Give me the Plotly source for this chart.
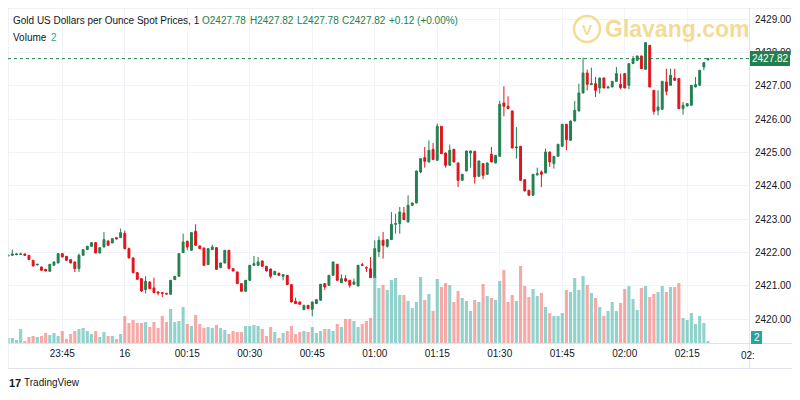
import plotly.graph_objects as go
import pandas as pd

# ---------------- data ----------------
start_time = "2024-08-15 23:32"
n_candles = 169
times = pd.date_range(start_time, periods=n_candles, freq="min")

opens = [2421.90,2421.92,2421.94,2421.95,2421.96,2421.92,2421.77,2421.63,2421.57,2421.50,
         2421.44,2421.62,2421.69,2421.97,2421.89,2421.79,2421.72,2421.52,2421.92,2422.09,
         2422.19,2422.30,2421.99,2422.17,2422.35,2422.29,2422.45,2422.45,2422.58,2422.12,
         2421.84,2421.40,2421.22,2420.89,2421.12,2420.94,2420.82,2420.80,2420.78,2420.75,
         2421.19,2421.29,2422.00,2422.34,2422.07,2422.64,2422.20,2422.14,2421.64,2422.09,
         2422.15,2421.55,2421.69,2422.07,2421.52,2421.42,2421.07,2420.84,2421.17,2421.62,
         2421.62,2421.75,2421.59,2421.51,2421.34,2421.38,2421.29,2421.32,2421.04,2420.54,
         2420.52,2420.29,2420.42,2420.30,2420.47,2420.57,2421.07,2421.02,2421.32,2421.65,
         2421.10,2421.22,2421.17,2421.05,2421.00,2421.64,2421.55,2421.52,2421.25,2422.03,
         2422.37,2422.19,2422.39,2422.85,2422.87,2423.19,2422.92,2423.42,2423.49,2424.42,
         2424.85,2424.72,2425.10,2424.77,2425.79,2424.99,2424.62,2425.10,2424.69,2424.17,
         2424.45,2424.99,2425.04,2424.29,2424.67,2424.35,2424.95,2424.69,2424.89,2426.49,
         2426.39,2426.25,2425.14,2425.19,2424.19,2423.87,2423.72,2424.33,2424.42,2424.39,
         2425.02,2424.67,2424.89,2425.19,2425.85,2425.37,2425.95,2426.25,2426.79,2427.39,
         2427.04,2427.07,2426.94,2427.24,2426.94,2426.97,2427.14,2427.05,2427.37,2427.02,
         2427.67,2427.77,2427.90,2427.50,2428.22,2426.87,2426.27,2426.30,2427.12,2427.02,
         2427.24,2427.22,2426.32,2426.40,2426.42,2426.97,2427.02,2427.57,2427.78]
highs = [2421.95,2422.09,2421.99,2422.00,2421.97,2421.93,2421.78,2421.66,2421.58,2421.51,
         2421.66,2421.74,2421.99,2421.99,2421.90,2421.80,2421.73,2421.97,2422.10,2422.20,
         2422.31,2422.31,2422.16,2422.62,2422.36,2422.43,2422.46,2422.72,2422.66,2422.15,
         2421.86,2421.42,2421.23,2421.29,2421.14,2421.25,2420.84,2420.81,2420.79,2421.18,
         2421.30,2421.98,2422.57,2422.36,2422.62,2422.85,2422.22,2422.15,2422.13,2422.24,
         2422.16,2421.70,2422.08,2422.08,2421.53,2421.43,2421.08,2421.18,2421.63,2421.90,
         2421.87,2421.76,2421.60,2421.52,2421.45,2421.40,2421.35,2421.33,2421.05,2420.65,
         2420.53,2420.43,2420.43,2420.53,2420.60,2421.06,2421.08,2421.33,2421.73,2421.66,
         2421.35,2421.32,2421.18,2421.22,2421.63,2421.69,2421.59,2421.87,2422.37,2422.49,
         2422.62,2422.40,2423.22,2423.17,2423.37,2423.37,2423.72,2423.50,2424.46,2424.83,
         2425.17,2425.37,2425.29,2425.87,2425.80,2425.00,2425.24,2425.11,2424.70,2424.36,
         2425.06,2425.06,2425.05,2424.76,2424.68,2424.70,2425.17,2424.93,2426.55,2426.99,
         2426.69,2426.26,2425.77,2425.20,2424.20,2423.88,2424.36,2424.55,2424.47,2425.12,
         2425.03,2424.90,2425.26,2425.86,2425.86,2425.96,2426.55,2427.07,2427.85,2427.49,
         2427.55,2427.27,2427.25,2427.25,2426.98,2427.15,2427.57,2427.37,2427.38,2427.67,
         2427.90,2427.91,2427.91,2428.30,2428.23,2426.88,2426.87,2427.15,2427.52,2427.52,
         2427.52,2427.23,2426.52,2426.48,2427.03,2427.27,2427.48,2427.72,2427.82]
lows = [2421.88,2421.90,2421.92,2421.93,2421.90,2421.78,2421.59,2421.62,2421.46,2421.44,
        2421.43,2421.61,2421.68,2421.86,2421.76,2421.68,2421.42,2421.42,2421.91,2422.08,
        2422.18,2421.98,2421.98,2422.16,2422.21,2422.28,2422.40,2422.44,2422.10,2421.83,
        2421.38,2421.19,2420.82,2420.77,2420.91,2420.78,2420.72,2420.67,2420.74,2420.74,
        2421.18,2421.28,2421.99,2422.07,2422.06,2422.21,2422.11,2421.61,2421.63,2422.08,
        2421.49,2421.54,2421.68,2421.51,2421.44,2421.06,2420.83,2420.83,2421.16,2421.61,
        2421.61,2421.58,2421.44,2421.23,2421.33,2421.31,2421.17,2421.03,2420.51,2420.46,
        2420.44,2420.28,2420.31,2420.09,2420.46,2420.56,2420.88,2421.01,2421.31,2421.16,
        2421.09,2421.12,2420.95,2421.04,2420.99,2421.60,2421.42,2421.24,2421.24,2421.87,
        2421.82,2422.15,2422.38,2422.57,2422.57,2422.98,2422.91,2423.41,2423.48,2424.38,
        2424.55,2424.71,2424.78,2424.76,2424.96,2424.55,2424.61,2424.71,2423.97,2424.16,
        2424.44,2424.55,2424.07,2424.28,2424.20,2424.34,2424.71,2424.68,2424.88,2426.09,
        2426.31,2425.13,2424.82,2424.16,2423.84,2423.71,2423.71,2424.32,2423.97,2424.38,
        2424.57,2424.52,2424.88,2425.18,2425.07,2425.36,2425.94,2426.24,2426.78,2426.87,
        2427.03,2426.67,2426.77,2426.93,2426.93,2426.96,2427.13,2426.90,2426.93,2426.90,
        2427.66,2427.76,2427.51,2427.49,2426.96,2426.14,2426.12,2426.29,2426.72,2427.01,
        2427.16,2426.31,2426.14,2426.39,2426.41,2426.96,2427.01,2427.47,2427.78]
closes = [2421.93,2421.96,2421.96,2421.96,2421.92,2421.79,2421.60,2421.65,2421.47,2421.45,
          2421.65,2421.72,2421.97,2421.87,2421.77,2421.69,2421.52,2421.92,2422.09,2422.19,
          2422.30,2421.99,2422.15,2422.39,2422.22,2422.42,2422.41,2422.60,2422.12,2421.84,
          2421.40,2421.20,2420.85,2421.14,2420.92,2420.80,2420.79,2420.78,2420.76,2421.17,
          2421.29,2421.97,2422.32,2422.17,2422.60,2422.22,2422.12,2421.62,2422.12,2422.17,
          2421.50,2421.69,2422.07,2421.52,2421.45,2421.07,2420.84,2421.17,2421.62,2421.67,
          2421.72,2421.59,2421.45,2421.29,2421.44,2421.32,2421.34,2421.04,2420.52,2420.47,
          2420.45,2420.42,2420.32,2420.52,2420.59,2421.05,2420.97,2421.32,2421.72,2421.17,
          2421.22,2421.15,2421.02,2421.12,2421.62,2421.62,2421.54,2421.25,2422.12,2422.37,
          2422.22,2422.39,2422.85,2422.87,2423.22,2422.99,2423.42,2423.49,2424.45,2424.82,
          2424.74,2425.07,2424.79,2425.79,2424.97,2424.62,2425.07,2424.72,2424.17,2424.35,
          2425.05,2425.05,2424.27,2424.75,2424.32,2424.69,2424.72,2424.92,2426.45,2426.39,
          2426.32,2425.14,2425.17,2424.17,2423.85,2423.72,2424.35,2424.37,2424.35,2425.02,
          2424.72,2424.89,2425.25,2425.85,2425.39,2425.95,2426.27,2426.79,2427.39,2427.05,
          2427.07,2426.87,2427.24,2426.94,2426.97,2427.14,2427.37,2426.95,2426.94,2427.67,
          2427.82,2427.90,2427.52,2428.30,2426.97,2426.24,2426.37,2427.14,2426.84,2427.32,
          2427.17,2426.32,2426.42,2426.47,2427.02,2427.04,2427.47,2427.70,2427.82]
volumes = [5,5,3,14,2,6,7,6,7,10,8,10,7,12,4,9,12,14,15,12,
           9,12,6,11,7,7,4,9,27,20,23,20,20,21,16,21,15,27,21,34,
           21,22,36,19,17,28,19,15,16,15,18,15,13,9,12,11,11,17,17,18,
           17,14,7,16,11,5,10,12,17,9,11,12,11,16,10,12,14,14,12,19,
           16,24,24,22,16,19,22,25,67,55,58,53,63,65,48,48,42,35,41,66,
           43,49,32,64,56,60,58,41,52,45,42,32,43,41,59,47,45,43,62,73,
           41,48,42,77,57,46,54,47,50,36,30,27,27,30,53,51,65,53,67,58,
           50,45,36,27,32,41,32,40,54,57,44,33,55,57,46,49,51,57,51,56,
           56,60,25,23,30,19,27,20,2]

price_ticks = [2420, 2421, 2422, 2423, 2424, 2425, 2426, 2427, 2428, 2429]
time_tick_vals = ["2024-08-15 23:45", "2024-08-16 00:00", "2024-08-16 00:15", "2024-08-16 00:30",
                  "2024-08-16 00:45", "2024-08-16 01:00", "2024-08-16 01:15", "2024-08-16 01:30",
                  "2024-08-16 01:45", "2024-08-16 02:00", "2024-08-16 02:15"]
time_tick_text = ["23:45", "16", "00:15", "00:30", "00:45", "01:00", "01:15", "01:30",
                  "01:45", "02:00", "02:15"]
title_text = "Gold US Dollars per Ounce Spot Prices, 1"
last_price = 2427.82
last_volume = 2

# ---------------- style ----------------
# The page body keeps an 8px margin, so the figure is 792x392 and every
# reference pixel position is shifted by OFF when converted.
OFF = 8
W, H = 792, 392
ML, MR, MT, MB = 0, 51, 0, 57
PW, PH = W - ML - MR, H - MT - MB
UP = "#22804f"
DN = "#e3121b"
VOL_UP = "rgba(38,166,154,0.5)"
VOL_DN = "rgba(239,83,80,0.5)"
GRID = "#f0f3fa"
BORDER = "#e0e3eb"
TXT = "#131722"
FONT = "Liberation Sans, Arial, sans-serif"
GOLD = "rgba(236,196,80,0.6)"


def fx(px):
    return (px - OFF - ML) / PW


def fy(py):
    return (MT + PH - (py - OFF)) / PH


vol_colors = [VOL_UP if c >= o else VOL_DN for o, c in zip(opens, closes)]

fig = go.Figure()
fig.add_trace(go.Candlestick(
    x=times, open=opens, high=highs, low=lows, close=closes,
    increasing=dict(line=dict(color=UP, width=1), fillcolor=UP),
    decreasing=dict(line=dict(color=DN, width=1), fillcolor=DN),
    whiskerwidth=0, yaxis="y", showlegend=False, hoverinfo="skip"))
fig.add_trace(go.Bar(
    x=times, y=volumes, marker=dict(color=vol_colors, line=dict(width=0)),
    yaxis="y2", showlegend=False, hoverinfo="skip"))

x_start = pd.Timestamp("2024-08-15 23:31:58")
x_end = pd.Timestamp("2024-08-16 02:29:50")

fig.update_layout(
    template="none",
    width=W, height=H, margin=dict(l=ML, r=MR, t=MT, b=MB, autoexpand=False),
    paper_bgcolor="white", plot_bgcolor="white",
    font=dict(family=FONT, size=10, color=TXT),
    bargap=0.25, boxgap=0.35,
    xaxis=dict(range=[x_start, x_end], tickvals=time_tick_vals, ticktext=time_tick_text,
               showgrid=True, gridcolor=GRID, gridwidth=1, zeroline=False, automargin=False,
               showline=False, ticks="", rangeslider=dict(visible=False),
               tickfont=dict(family=FONT, size=10, color=TXT), ticklabelstandoff=3),
    yaxis=dict(side="right", range=[2419.289, 2429.339], tickvals=price_ticks,
               tickformat=".2f", showgrid=True, gridcolor=GRID, gridwidth=1, automargin=False,
               zeroline=False, showline=False, ticks="",
               tickfont=dict(family=FONT, size=10, color=TXT), ticklabelstandoff=5),
    yaxis2=dict(overlaying="y", range=[0, PH], visible=False, fixedrange=True, automargin=False),
)

shapes = [
    dict(type="rect", xref="paper", yref="paper", x0=fx(8), x1=fx(793.5), y0=fy(368.5), y1=fy(8),
         line=dict(color=BORDER, width=1), fillcolor="rgba(0,0,0,0)", layer="above"),
    dict(type="line", xref="paper", yref="paper", x0=fx(749.5), x1=fx(749.5), y0=fy(368.5), y1=fy(8),
         line=dict(color=BORDER, width=1), layer="above"),
    dict(type="line", xref="paper", yref="paper", x0=fx(8), x1=fx(793.5), y0=fy(343.5), y1=fy(343.5),
         line=dict(color=BORDER, width=1), layer="above"),
    dict(type="line", xref="paper", yref="y", x0=0, x1=1, y0=last_price, y1=last_price,
         line=dict(color=UP, width=1, dash="dot"), layer="above"),
    dict(type="rect", xref="paper", yref="paper", x0=fx(750), x1=fx(790), y0=fy(66), y1=fy(51),
         line=dict(width=0), fillcolor=UP, layer="above"),
    dict(type="rect", xref="paper", yref="paper", x0=fx(751), x1=fx(762), y0=fy(344), y1=fy(331),
         line=dict(width=0), fillcolor="#26a69a", layer="above"),
    dict(type="circle", xref="paper", yref="paper", x0=fx(574), x1=fx(600), y0=fy(42), y1=fy(16),
         line=dict(color=GOLD, width=2.5), fillcolor="rgba(0,0,0,0)", layer="above"),
]
fig.update_layout(shapes=shapes)

ann = []


def add_text(px, py, text, color=TXT, size=10, anchor="left", family=FONT):
    ann.append(dict(xref="paper", yref="paper", x=fx(px), y=fy(py), text=text, showarrow=False,
                    xanchor=anchor, yanchor="middle", borderpad=0,
                    font=dict(family=family, size=size, color=color)))


add_text(12, 21, title_text)
add_text(201, 21, "O%.2f" % opens[-1], UP)
add_text(249, 21, "H%.2f" % highs[-1], UP)
add_text(296, 21, "L%.2f" % lows[-1], UP)
add_text(341, 21, "C%.2f" % closes[-1], UP)
add_text(388, 21, "+%.2f (+0.00%%)" % (closes[-1] - closes[-2]), UP)
add_text(12, 37, "Volume")
add_text(50, 37, str(last_volume), "#26a69a")
add_text(770, 58.5, "%.2f" % last_price, "white", 10, "center")
add_text(756.5, 337.5, str(last_volume), "white", 10, "center")
add_text(740, 355.5, "02:", TXT, 10, "left")
add_text(587, 29.5, "<b>V</b>", GOLD, 15, "center")
add_text(604, 29, "<b>Glavang.com</b>", GOLD, 23, "left")
add_text(8, 383, "<b>17</b>", TXT, 11, "left")
add_text(23, 383, "TradingView", TXT, 10, "left")
fig.update_layout(annotations=ann)

fig.write_html("out.html")
